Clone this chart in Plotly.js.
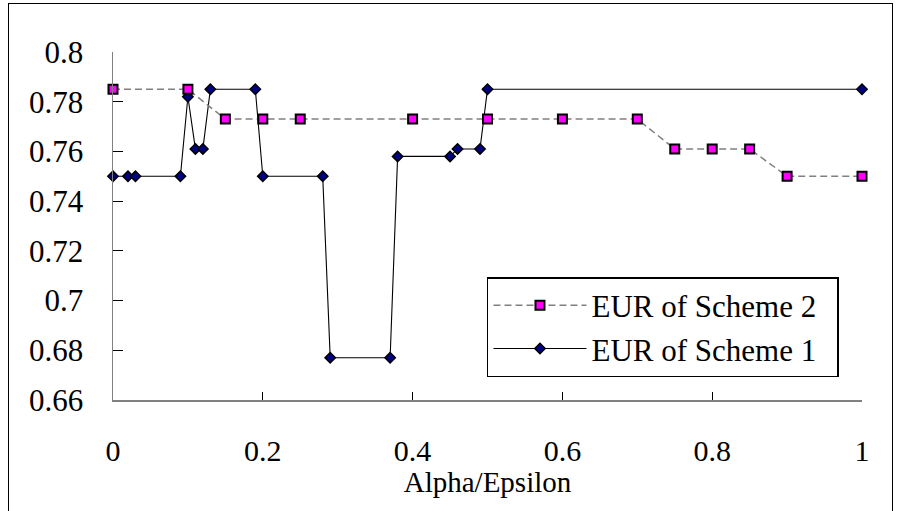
<!DOCTYPE html>
<html>
<head>
<meta charset="utf-8">
<script src="https://cdn.plot.ly/plotly-3.0.1.min.js"></script>
<style>
  html, body { margin: 0; padding: 0; background: #fff; }
  #wrap { position: relative; width: 897px; height: 511px; overflow: hidden; }
  #chart { width: 897px; height: 511px; }
  #frame { position: absolute; left: 8px; top: 3px; width: 885px; height: 540px;
           border: 1.5px solid #000; pointer-events: none; box-sizing: border-box; }
</style>
</head>
<body>
<div id="wrap">
  <div id="chart"></div>
  <div id="frame"></div>
</div>
<script>
// Scheme 1 (diamonds, solid line)
const scheme1X = [0, 0.02, 0.03, 0.09, 0.10, 0.11, 0.12, 0.13, 0.19, 0.20, 0.28, 0.29, 0.37, 0.38, 0.45, 0.46, 0.49, 0.50, 1.00];
const scheme1Y = [0.750, 0.750, 0.750, 0.750, 0.782, 0.761, 0.761, 0.785, 0.785, 0.750, 0.750, 0.677, 0.677, 0.758, 0.758, 0.761, 0.761, 0.785, 0.785];
// Scheme 2 (squares, dashed line)
const scheme2X = [0, 0.10, 0.15, 0.20, 0.25, 0.40, 0.50, 0.60, 0.70, 0.75, 0.80, 0.85, 0.90, 1.00];
const scheme2Y = [0.785, 0.785, 0.773, 0.773, 0.773, 0.773, 0.773, 0.773, 0.773, 0.761, 0.761, 0.761, 0.750, 0.750];

const seriesNames = ["EUR of Scheme 1", "EUR of Scheme 2"];
const xTickVals = [0, 0.2, 0.4, 0.6, 0.8, 1];
const xTickText = ["0", "0.2", "0.4", "0.6", "0.8", "1"];
const yTickVals = [0.66, 0.68, 0.70, 0.72, 0.74, 0.76, 0.78, 0.80];
const yTickText = ["0.66", "0.68", "0.7", "0.72", "0.74", "0.76", "0.78", "0.8"];
const xTitle = "Alpha/Epsilon";

const serif = "Liberation Serif";
const legendPad = "\u00a0\u00a0";  // right padding inside the legend box

const traces = [
  {
    x: scheme1X, y: scheme1Y, name: seriesNames[0] + legendPad,
    type: "scatter", mode: "lines+markers", cliponaxis: false,
    line: { color: "#000000", width: 1.1 },
    marker: { symbol: "diamond", size: 8, color: "#000080", line: { color: "#000000", width: 1.5 } }
  },
  {
    x: scheme2X, y: scheme2Y, name: seriesNames[1] + legendPad,
    type: "scatter", mode: "lines+markers", cliponaxis: false,
    line: { color: "#808080", width: 1.5, dash: "7px,4px" },
    marker: { symbol: "square", size: 9, color: "#ff00ff", line: { color: "#000000", width: 2 } }
  }
];

const layout = {
  width: 897, height: 511,
  margin: { l: 113, r: 35, t: 52, b: 111 },
  paper_bgcolor: "#ffffff", plot_bgcolor: "#ffffff",
  font: { family: serif, color: "#000000", size: 30 },
  showlegend: true,
  legend: {
    x: 0.4993, y: 0.3534, xanchor: "left", yanchor: "top",
    bgcolor: "#ffffff", bordercolor: "#000000", borderwidth: 1.5,
    traceorder: "reversed",
    itemwidth: 93,
    font: { family: serif, size: 31, color: "#000000" }
  },
  xaxis: {
    range: [0, 1], autorange: false,
    tickvals: xTickVals, ticktext: xTickText,
    ticks: "inside", ticklen: 8, tickwidth: 1, tickcolor: "#000000",
    showline: true, linecolor: "#808080", linewidth: 1.5,
    showgrid: false, zeroline: false,
    tickfont: { family: serif, size: 30 },
    ticklabelstandoff: 23,
    title: { text: xTitle, font: { family: serif, size: 29 }, standoff: 0 },
    automargin: false
  },
  yaxis: {
    range: [0.66, 0.80], autorange: false,
    tickvals: yTickVals, ticktext: yTickText,
    ticks: "inside", ticklen: 10, tickwidth: 1, tickcolor: "#000000",
    showline: true, linecolor: "#808080", linewidth: 1.5,
    showgrid: false, zeroline: false,
    tickfont: { family: serif, size: 31 },
    ticklabelstandoff: 22,
    automargin: false
  }
};

Plotly.newPlot("chart", traces, layout, { staticPlot: true, displayModeBar: false });
</script>
</body>
</html>
